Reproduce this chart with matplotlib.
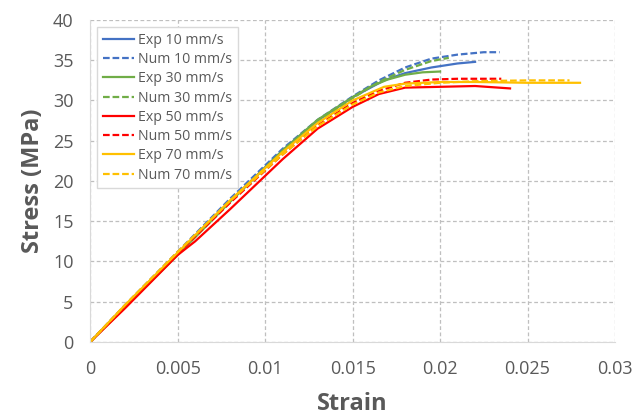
import matplotlib.pyplot as plt

# 应变-应力数据
exp10_x = [0, 0.002, 0.005, 0.008, 0.011, 0.013, 0.015, 0.0168, 0.018, 0.0195, 0.021, 0.022]
exp10_y = [0, 4.5, 11.0, 17.5, 23.8, 27.5, 30.4, 32.5, 33.4, 34.1, 34.6, 34.8]
num10_x = [0, 0.002, 0.005, 0.008, 0.011, 0.013, 0.015, 0.0165, 0.018, 0.0195, 0.021, 0.0225, 0.0234]
num10_y = [0, 4.6, 11.2, 17.8, 24.0, 27.6, 30.5, 32.5, 34.1, 35.2, 35.7, 36.0, 36.0]
exp30_x = [0, 0.002, 0.005, 0.008, 0.011, 0.013, 0.015, 0.016, 0.017, 0.018, 0.019, 0.020]
exp30_y = [0, 4.3, 10.8, 17.4, 23.8, 27.6, 30.4, 31.7, 32.6, 33.2, 33.5, 33.6]
num30_x = [0, 0.002, 0.005, 0.008, 0.011, 0.013, 0.015, 0.0165, 0.018, 0.0195, 0.0205]
num30_y = [0, 4.5, 11.0, 17.5, 23.7, 27.3, 30.3, 32.3, 33.8, 34.9, 35.3]
exp50_x = [0, 0.002, 0.005, 0.006, 0.008, 0.011, 0.013, 0.015, 0.0165, 0.018, 0.020, 0.022, 0.024]
exp50_y = [0, 4.2, 10.8, 12.5, 16.5, 22.7, 26.5, 29.2, 30.8, 31.6, 31.7, 31.8, 31.5]
num50_x = [0, 0.002, 0.005, 0.008, 0.011, 0.013, 0.015, 0.0165, 0.018, 0.0195, 0.021, 0.0235]
num50_y = [0, 4.5, 11.0, 17.3, 23.3, 26.9, 29.7, 31.2, 32.2, 32.6, 32.7, 32.7]
exp70_x = [0, 0.002, 0.005, 0.008, 0.011, 0.013, 0.015, 0.0168, 0.018, 0.020, 0.022, 0.025, 0.028]
exp70_y = [0, 4.6, 11.1, 17.6, 23.6, 27.2, 30.0, 31.7, 32.1, 32.3, 32.3, 32.2, 32.2]
num70_x = [0, 0.002, 0.005, 0.008, 0.011, 0.013, 0.015, 0.0165, 0.018, 0.020, 0.022, 0.025, 0.0274]
num70_y = [0, 4.6, 11.2, 17.5, 23.3, 26.8, 29.5, 31.0, 31.8, 32.2, 32.4, 32.5, 32.5]

blue, green, red, yellow = '#4472C4', '#70AD47', '#FF0000', '#FFC000'
gray = '#595959'
dash = (0, (3, 1.3))

plt.rcParams['font.family'] = ['Open Sans', 'DejaVu Sans']

fig = plt.figure(figsize=(6.44, 4.17), dpi=100)
ax = fig.add_axes([0.14, 0.18, 0.815, 0.772])

ax.plot(exp10_x, exp10_y, color=blue, lw=1.6, label='Exp 10 mm/s')
ax.plot(num10_x, num10_y, color=blue, lw=1.6, ls=dash, label='Num 10 mm/s')
ax.plot(exp30_x, exp30_y, color=green, lw=1.6, label='Exp 30 mm/s')
ax.plot(num30_x, num30_y, color=green, lw=1.6, ls=dash, label='Num 30 mm/s')
ax.plot(exp50_x, exp50_y, color=red, lw=1.6, label='Exp 50 mm/s')
ax.plot(num50_x, num50_y, color=red, lw=1.6, ls=dash, label='Num 50 mm/s')
ax.plot(exp70_x, exp70_y, color=yellow, lw=1.6, label='Exp 70 mm/s')
ax.plot(num70_x, num70_y, color=yellow, lw=1.6, ls=dash, label='Num 70 mm/s')

ax.set_xlim(0, 0.03)
ax.set_ylim(0, 40)
ax.set_xticks([0, 0.005, 0.01, 0.015, 0.02, 0.025, 0.03])
ax.set_xticklabels(['0', '0.005', '0.01', '0.015', '0.02', '0.025', '0.03'])
ax.set_yticks(range(0, 41, 5))
ax.tick_params(axis='both', length=0, labelsize=13, colors=gray)
ax.tick_params(axis='y', pad=12)
ax.tick_params(axis='x', pad=13)
ax.grid(True, color='#BFBFBF', ls=(0, (3, 2)), lw=0.9)
for side in ['top', 'right']:
    ax.spines[side].set_visible(False)
for side in ['left', 'bottom']:
    ax.spines[side].set_color('#D9D9D9')

ax.set_xlabel('Strain', fontsize=17, fontweight='bold', color=gray, labelpad=10)
ax.set_ylabel('Stress (MPa)', fontsize=17, fontweight='bold', color=gray, labelpad=6)

leg = ax.legend(loc='upper left', fontsize=10.2, handlelength=2.2, handletextpad=0.3,
                labelspacing=0.3, borderaxespad=0.5, fancybox=False, framealpha=1)
leg.get_frame().set_edgecolor('#D9D9D9')
for t in leg.get_texts():
    t.set_color(gray)

plt.savefig('out.png', dpi=100)
